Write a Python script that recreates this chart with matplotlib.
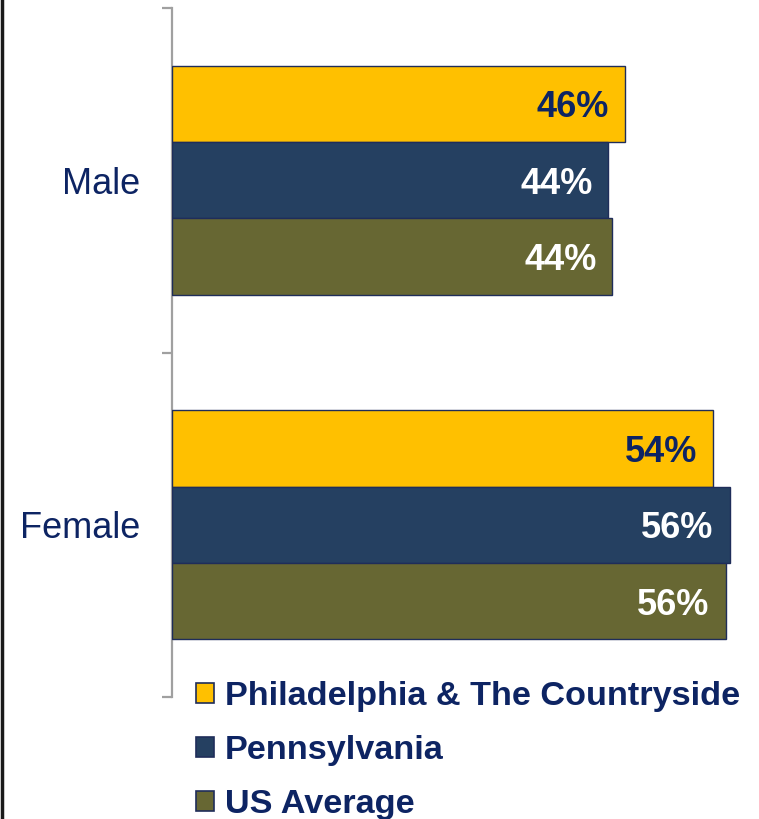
import matplotlib
matplotlib.use('Agg')
import matplotlib.pyplot as plt
from matplotlib.patches import Patch
from matplotlib.lines import Line2D
import numpy as np

plt.rcParams['font.family'] = ['Liberation Sans', 'DejaVu Sans']

categories = ['Male', 'Female']
series = ['Philadelphia & The Countryside', 'Pennsylvania', 'US Average']
philly = [45.6, 54.4]
penn = [43.9, 56.1]
us_avg = [44.3, 55.7]

colors = ['#FFC000', '#254061', '#676733']
label_colors = ['#0D2463', 'white', 'white']
navy = '#0D2463'

fig = plt.figure(figsize=(7.59, 8.19), dpi=100)
W, H = 759, 819
# axes in pixel units: left edge at the spine, top/bottom at the outer ticks
ax_l, ax_r, ax_t, ax_b = 172, 752, 8, 697
ax = fig.add_axes([ax_l / W, 1 - ax_b / H, (ax_r - ax_l) / W, (ax_b - ax_t) / H])

px_per_pct = 9.94
ax.set_xlim(0, (ax_r - ax_l) / px_per_pct)
ax.set_ylim(1.5, -0.5)

y = np.arange(len(categories))
bh = 0.222
for i, (vals, c, lc) in enumerate(zip([philly, penn, us_avg], colors, label_colors)):
    pos = y + (i - 1) * bh
    bars = ax.barh(pos, vals, height=bh, color=c, edgecolor='#1F2D5A', linewidth=1, zorder=3)
    for b, v in zip(bars, vals):
        ax.text(v - 1.6, b.get_y() + b.get_height() / 2, '{:.0f}%'.format(v),
                ha='right', va='center_baseline', color=lc, fontsize=26,
                fontweight='bold', zorder=4)

for s in ['top', 'right', 'bottom']:
    ax.spines[s].set_visible(False)
ax.spines['left'].set_color('#A0A0A0')
ax.spines['left'].set_linewidth(1.6)
ax.set_xticks([])

ax.set_yticks(y)
ax.set_yticklabels(categories, fontsize=26, color=navy)
ax.tick_params(axis='y', which='major', length=0, pad=23)
ax.set_yticks([-0.5, 0.5, 1.5], minor=True)
ax.tick_params(axis='y', which='minor', length=7.5, width=1.6, color='#A0A0A0')

handles = [Patch(facecolor=c, edgecolor='#1F2D5A', linewidth=1.2) for c in colors]
fig.legend(handles, series, loc='upper left', bbox_to_anchor=(196 / W, 1 - 681 / H),
           frameon=False, prop={'weight': 'bold', 'size': 24.7},
           labelcolor=navy, handlelength=0.52, handleheight=0.52,
           handletextpad=0.32, labelspacing=0.67, borderaxespad=0, borderpad=0)

# dark rule down the left edge
fig.add_artist(Line2D([0.002, 0.002], [0, 1], color='#1A1A1A', linewidth=2.5,
                      transform=fig.transFigure))

fig.savefig('out.png', dpi=100)
